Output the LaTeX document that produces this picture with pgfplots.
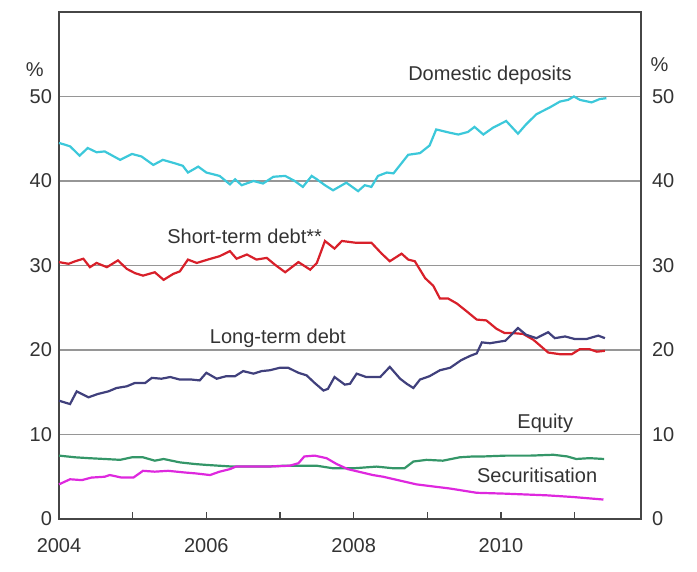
\documentclass[border=0pt]{standalone}
\usepackage{fontspec}
\setmainfont{Liberation Sans}
\usepackage{pgfplots}
\usepackage{pgfplotstable}
\pgfplotsset{compat=1.18}

\definecolor{deposits}{RGB}{60,200,218}
\definecolor{stdebt}{RGB}{216,32,42}
\definecolor{ltdebt}{RGB}{64,64,124}
\definecolor{equity}{RGB}{52,150,104}
\definecolor{secur}{RGB}{222,40,222}
\definecolor{txt}{RGB}{51,51,51}
\definecolor{frame}{RGB}{70,70,70}
\definecolor{gridc}{RGB}{150,150,150}

% share of funding, per cent; x in decimal years
\pgfplotstableread{
x y
2004.00 44.5
2004.08 44.3
2004.15 44.1
2004.28 43.0
2004.39 43.9
2004.51 43.4
2004.62 43.5
2004.83 42.5
2004.99 43.2
2005.12 42.9
2005.28 41.9
2005.41 42.5
2005.57 42.1
2005.68 41.8
2005.75 41.0
2005.89 41.7
2006.00 41.0
2006.18 40.6
2006.32 39.6
2006.39 40.2
2006.48 39.5
2006.64 40.0
2006.77 39.7
2006.91 40.5
2007.07 40.6
2007.20 40.0
2007.31 39.3
2007.43 40.6
2007.50 40.2
2007.61 39.5
2007.72 38.9
2007.90 39.8
2008.06 38.8
2008.15 39.5
2008.24 39.3
2008.33 40.6
2008.45 41.0
2008.54 40.9
2008.64 42.0
2008.74 43.1
2008.90 43.3
2009.03 44.2
2009.12 46.1
2009.31 45.7
2009.42 45.5
2009.55 45.8
2009.64 46.4
2009.76 45.5
2009.89 46.3
2010.07 47.1
2010.23 45.6
2010.34 46.7
2010.48 47.9
2010.66 48.7
2010.80 49.4
2010.91 49.6
2010.99 50.0
2011.07 49.6
2011.23 49.3
2011.34 49.7
2011.43 49.8
}\deposits

\pgfplotstableread{
x y
2004.00 30.4
2004.13 30.2
2004.22 30.5
2004.33 30.8
2004.42 29.8
2004.51 30.3
2004.65 29.8
2004.80 30.6
2004.92 29.6
2005.03 29.1
2005.14 28.8
2005.30 29.2
2005.42 28.3
2005.55 29.0
2005.64 29.3
2005.75 30.7
2005.87 30.3
2006.02 30.7
2006.18 31.1
2006.32 31.7
2006.41 30.8
2006.55 31.3
2006.68 30.7
2006.82 30.9
2006.93 30.1
2007.07 29.2
2007.25 30.4
2007.41 29.5
2007.50 30.3
2007.61 32.9
2007.74 32.0
2007.84 32.9
2008.02 32.7
2008.24 32.7
2008.38 31.4
2008.49 30.5
2008.65 31.4
2008.74 30.7
2008.83 30.5
2008.97 28.5
2009.08 27.6
2009.17 26.1
2009.28 26.1
2009.40 25.5
2009.53 24.6
2009.67 23.6
2009.80 23.5
2009.94 22.5
2010.05 22.0
2010.16 22.0
2010.30 21.9
2010.44 21.2
2010.64 19.7
2010.80 19.5
2010.96 19.5
2011.07 20.1
2011.20 20.1
2011.30 19.8
2011.41 19.9
}\stdebt

\pgfplotstableread{
x y
2004.00 14.0
2004.15 13.6
2004.24 15.1
2004.40 14.4
2004.53 14.8
2004.67 15.1
2004.78 15.5
2004.92 15.7
2005.03 16.1
2005.17 16.1
2005.26 16.7
2005.39 16.6
2005.51 16.8
2005.64 16.5
2005.80 16.5
2005.91 16.4
2006.00 17.3
2006.14 16.6
2006.27 16.9
2006.39 16.9
2006.50 17.5
2006.64 17.2
2006.75 17.5
2006.86 17.6
2007.00 17.9
2007.11 17.9
2007.25 17.3
2007.36 17.0
2007.47 16.1
2007.59 15.2
2007.65 15.4
2007.74 16.8
2007.88 15.9
2007.95 16.0
2008.04 17.2
2008.17 16.8
2008.36 16.8
2008.49 18.0
2008.63 16.6
2008.72 16.0
2008.81 15.5
2008.90 16.5
2009.03 16.9
2009.17 17.6
2009.31 17.9
2009.46 18.8
2009.58 19.3
2009.67 19.6
2009.74 20.9
2009.85 20.8
2010.06 21.1
2010.23 22.6
2010.34 21.8
2010.48 21.4
2010.64 22.1
2010.73 21.4
2010.87 21.6
2011.00 21.3
2011.16 21.3
2011.32 21.7
2011.41 21.4
}\ltdebt

\pgfplotstableread{
x y
2004.00 7.5
2004.22 7.3
2004.40 7.2
2004.62 7.1
2004.83 7.0
2004.99 7.3
2005.14 7.3
2005.30 6.9
2005.42 7.1
2005.64 6.7
2005.85 6.5
2006.00 6.4
2006.36 6.2
2006.82 6.2
2007.05 6.3
2007.50 6.3
2007.72 6.0
2008.00 6.0
2008.31 6.2
2008.54 6.0
2008.69 6.0
2008.81 6.8
2008.99 7.0
2009.21 6.9
2009.44 7.3
2009.62 7.4
2009.76 7.4
2010.07 7.5
2010.40 7.5
2010.71 7.6
2010.90 7.4
2011.02 7.1
2011.20 7.2
2011.40 7.1
}\equity

\pgfplotstableread{
x y
2004.00 4.1
2004.15 4.7
2004.31 4.6
2004.44 4.9
2004.62 5.0
2004.69 5.2
2004.85 4.9
2005.01 4.9
2005.14 5.7
2005.30 5.6
2005.48 5.7
2005.71 5.5
2005.85 5.4
2006.05 5.2
2006.18 5.6
2006.32 5.9
2006.40 6.2
2006.82 6.2
2007.13 6.3
2007.25 6.6
2007.33 7.4
2007.47 7.5
2007.63 7.2
2007.77 6.5
2007.92 5.9
2008.26 5.2
2008.40 5.0
2008.85 4.1
2009.31 3.6
2009.67 3.1
2010.05 3.0
2010.62 2.8
2010.98 2.6
2011.39 2.3
}\secur

\begin{document}
\begin{tikzpicture}
\pgfplotsset{every axis/.append style={
    scale only axis, width=291pt, height=253.5pt,
    xmin=2004, xmax=2011.9, ymin=0, ymax=60,
    font=\fontsize{10}{12}\selectfont,
    /pgf/number format/assume math mode=true,
    ytick={0,10,...,50},
    ytick style={draw=none},
    tick label style={text=txt},
}}
\begin{axis}[
    name=main,
    clip=false,
    axis line style={frame, line width=0.8pt},
    xtick={2004,...,2011},
    xticklabels={2004,,2006,,2008,,2010,},
    xtick pos=lower,
    tick align=inside,
    major tick length=3.5pt,
    xtick style={frame, line width=0.8pt},
    xticklabel style={yshift=-6pt},
    ymajorgrids,
    grid style={gridc, line width=0.6pt},
    ytick pos=left,
    every line plot/.style={line width=1.1pt},
]
\addplot[deposits, line width=1.1pt] table {\deposits};
\addplot[stdebt, line width=1.1pt] table {\stdebt};
\addplot[ltdebt, line width=1.1pt] table {\ltdebt};
\addplot[equity, line width=1.1pt] table {\equity};
\addplot[secur, line width=1.1pt] table {\secur};

\node[text=txt] at (axis cs:2009.85,52.5) {Domestic deposits};
\node[text=txt] at (axis cs:2006.52,33.4) {Short-term debt**};
\node[text=txt] at (axis cs:2006.97,21.4) {Long-term debt};
\node[text=txt] at (axis cs:2010.60,11.3) {Equity};
\node[text=txt] at (axis cs:2010.49,5.2) {Securitisation};
\node[text=txt] at (axis cs:2003.67,53.2) {\%};
\node[text=txt] at (axis cs:2012.15,53.8) {\%};
\end{axis}
\begin{axis}[
    axis x line=none,
    axis y line*=right,
    y axis line style={draw=none},
    yticklabel style={xshift=2pt},
]
\end{axis}
\pgfresetboundingbox
\path ([xshift=-29.5pt,yshift=-26.5pt]main.south west) rectangle ([xshift=28pt,yshift=6pt]main.north east);
\end{tikzpicture}
\end{document}
